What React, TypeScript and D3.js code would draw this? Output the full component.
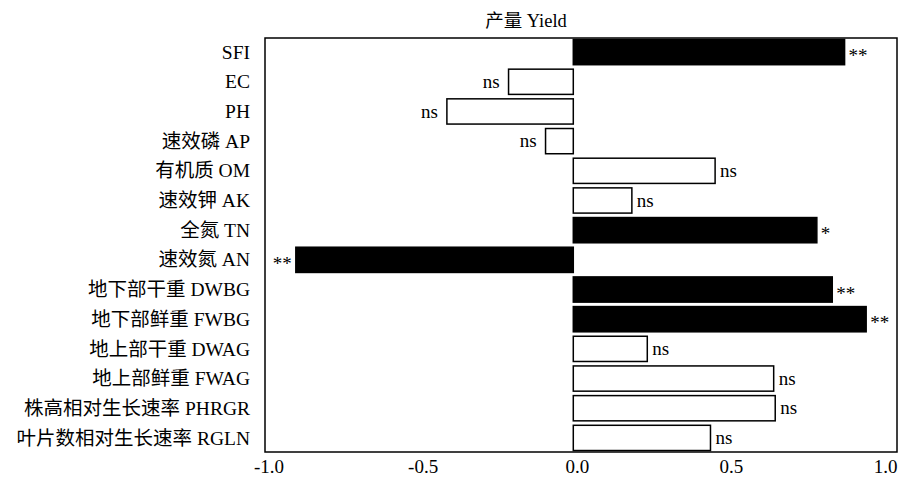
import React from "react";
import * as d3 from "d3";

// indicators, top to bottom
const labels = [
  "SFI",
  "EC",
  "PH",
  "速效磷 AP",
  "有机质 OM",
  "速效钾 AK",
  "全氮 TN",
  "速效氮 AN",
  "地下部干重 DWBG",
  "地下部鲜重 FWBG",
  "地上部干重 DWAG",
  "地上部鲜重 FWAG",
  "株高相对生长速率 PHRGR",
  "叶片数相对生长速率 RGLN",
];

// correlation with yield
const values = [0.88, -0.21, -0.41, -0.09, 0.46, 0.19, 0.79, -0.9, 0.84, 0.95, 0.24, 0.65, 0.655, 0.445];

const signif = ["**", "ns", "ns", "ns", "ns", "ns", "*", "**", "**", "**", "ns", "ns", "ns", "ns"];

const ticks = [-1.0, -0.5, 0.0, 0.5, 1.0];

const title = "产量 Yield";

const W = 899;
const H = 478;
const margin = { top: 38, right: 2, bottom: 26, left: 265 };
const font = "Liberation Serif, Noto Sans CJK SC, serif";

const App = () => {
  const x = d3
    .scaleLinear()
    .domain([-1, 1.05])
    .range([margin.left, W - margin.right]);

  const y = d3
    .scaleBand()
    .domain(labels)
    .range([margin.top, H - margin.bottom])
    .paddingInner(0.15)
    .paddingOuter(0.05);

  const x0 = x(0);
  const fmt = (t) => d3.format(".1f")(t).replace("−", "-");

  return (
    <svg
      width={W}
      height={H}
      style={{ position: "absolute", left: 0, top: 0, background: "#fff", fontFamily: font }}
    >
      <text x={526} y={27} fontSize={18.5} textAnchor="middle" fill="#000">
        {title}
      </text>

      {/* bars */}
      {labels.map((d, i) => {
        const v = values[i];
        const bx = Math.min(x(v), x0);
        const bw = Math.abs(x(v) - x0);
        const sig = signif[i] !== "ns";
        const cy = y(d) + y.bandwidth() / 2;
        const gap = sig ? 4 : v < 0 ? 9 : 5;
        return (
          <g key={d}>
            <rect
              x={bx}
              y={y(d)}
              width={bw}
              height={y.bandwidth()}
              fill={sig ? "#000" : "#fff"}
              stroke="#000"
              strokeWidth={1.5}
            />
            <text
              x={v < 0 ? x(v) - gap : x(v) + gap}
              y={sig ? cy + 4 : cy}
              dy="0.32em"
              fontSize={19}
              textAnchor={v < 0 ? "end" : "start"}
              fill="#000"
            >
              {signif[i]}
            </text>
            <text
              x={250}
              y={cy}
              dy="0.34em"
              fontSize={19.5}
              textAnchor="end"
              fill="#000"
            >
              {d}
            </text>
          </g>
        );
      })}

      {/* frame */}
      <rect
        x={margin.left}
        y={margin.top}
        width={W - margin.left - margin.right}
        height={H - margin.top - margin.bottom}
        fill="none"
        stroke="#000"
        strokeWidth={1.5}
      />

      {/* x tick labels */}
      {ticks.map((t) => (
        <text
          key={t}
          x={x(t) + 4}
          y={473}
          fontSize={19}
          textAnchor="middle"
          fill="#000"
        >
          {fmt(t)}
        </text>
      ))}
    </svg>
  );
};

export default App;
